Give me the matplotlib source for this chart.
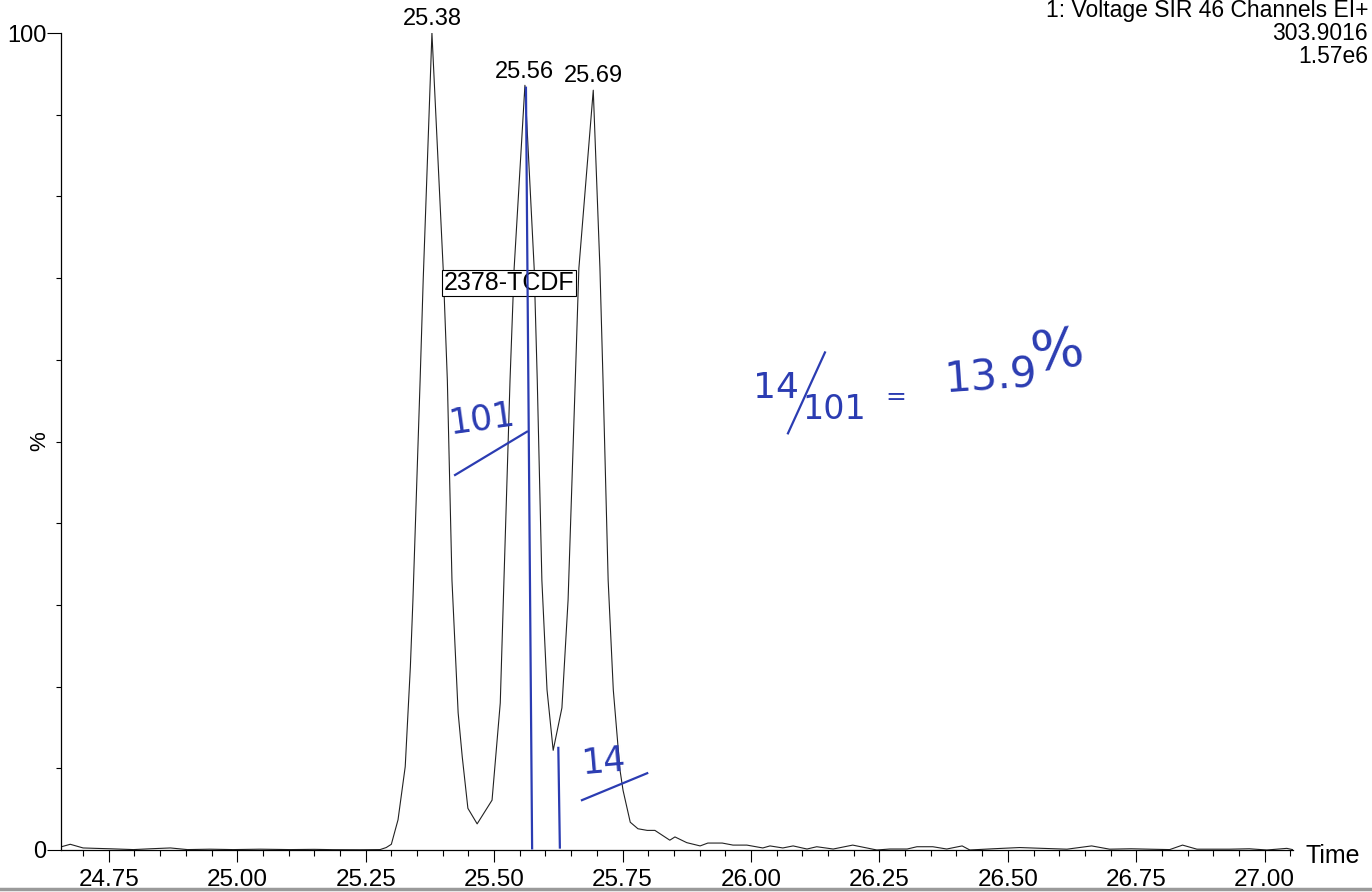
import matplotlib
matplotlib.use("Agg")
from matplotlib import pyplot as plt
from matplotlib.ticker import MultipleLocator, FixedLocator

# trace (time in min, % of base peak)
time_min = [24.658, 24.675, 24.700, 24.725, 24.753, 24.798, 24.831, 24.870, 24.903, 24.947,
            24.992, 25.045, 25.103, 25.150, 25.187, 25.239, 25.278, 25.290, 25.300, 25.313,
            25.327, 25.337, 25.342, 25.356, 25.362, 25.379, 25.401, 25.409, 25.418, 25.430,
            25.438, 25.449, 25.467, 25.496, 25.512, 25.518, 25.531, 25.539, 25.560, 25.578,
            25.584, 25.593, 25.603, 25.615, 25.632, 25.644, 25.658, 25.665, 25.693, 25.706,
            25.712, 25.722, 25.732, 25.745, 25.751, 25.765, 25.780, 25.798, 25.813, 25.842,
            25.852, 25.875, 25.901, 25.916, 25.944, 25.965, 25.992, 26.023, 26.037, 26.062,
            26.082, 26.109, 26.128, 26.160, 26.198, 26.245, 26.270, 26.304, 26.323, 26.354,
            26.381, 26.411, 26.426, 26.471, 26.523, 26.568, 26.615, 26.663, 26.698, 26.740,
            26.776, 26.815, 26.840, 26.868, 26.932, 26.970, 27.004, 27.043, 27.054]
intensity_pct = [0.4, 0.7, 0.25, 0.2, 0.15, 0.05, 0.15, 0.25, 0.05, 0.1,
                 0.05, 0.1, 0.05, 0.08, 0.04, 0.03, 0.05, 0.3, 0.7, 3.7,
                 10.2, 22.4, 30.6, 57.5, 69.8, 100.0, 71.0, 57.5, 33.0, 16.8,
                 11.4, 5.1, 3.2, 6.1, 18.0, 30.6, 57.5, 71.2, 93.6, 71.2,
                 57.5, 33.0, 19.6, 12.2, 17.4, 30.6, 57.5, 71.2, 93.0, 71.2,
                 57.5, 33.0, 19.6, 9.8, 7.3, 3.4, 2.6, 2.4, 2.4, 1.2,
                 1.6, 0.9, 0.5, 0.85, 0.85, 0.6, 0.6, 0.25, 0.5, 0.25,
                 0.5, 0.12, 0.4, 0.12, 0.6, 0.0, 0.12, 0.12, 0.4, 0.4,
                 0.12, 0.5, 0.0, 0.15, 0.3, 0.2, 0.1, 0.5, 0.1, 0.15,
                 0.1, 0.05, 0.6, 0.1, 0.1, 0.15, 0.0, 0.2, 0.05]

peak_rt = [25.379, 25.560, 25.693]
peak_height = [100.0, 93.6, 93.0]
peak_labels = ["25.38", "25.56", "25.69"]

header_lines = ["1: Voltage SIR 46 Channels EI+", "303.9016", "1.57e6"]
compound = "2378-TCDF"

# handwritten notes on the printout
note_peak = "101"
note_valley = "14"
ratio_num, ratio_den, ratio_result = "14", "101", "13.9"

ink = "#2b3cb2"
plt.rcParams['font.family'] = ['Liberation Sans', 'DejaVu Sans']

fig = plt.figure(figsize=(13.72, 8.92), dpi=100)
ax = fig.add_axes([61/1372, 42/892, (1293-61)/1372, (850-33)/892])

ax.plot(time_min, intensity_pct, color="#222222", lw=0.8, zorder=2)
ax.set_xlim(24.657, 27.055)
ax.set_ylim(0, 100)

for s in ["top", "right"]:
    ax.spines[s].set_visible(False)
for s in ["left", "bottom"]:
    ax.spines[s].set_linewidth(0.9)

ax.xaxis.set_major_locator(FixedLocator([24.75 + 0.25*i for i in range(10)]))
ax.xaxis.set_minor_locator(MultipleLocator(0.05))
ax.xaxis.set_major_formatter(matplotlib.ticker.FormatStrFormatter("%.2f"))
ax.tick_params(axis="x", which="major", direction="out", length=8.5, width=0.8,
               labelsize=17.5, pad=5)
ax.tick_params(axis="x", which="minor", direction="out", length=4.5, width=0.8)

ax.yaxis.set_major_locator(FixedLocator([0, 100]))
ax.yaxis.set_minor_locator(MultipleLocator(10))
ax.tick_params(axis="y", which="major", direction="out", length=10, width=0.8,
               labelsize=17, pad=0.5)
ax.tick_params(axis="y", which="minor", direction="out", length=3.5, width=0.8)

fig.text(40/1372, 1 - 441/892, "%", rotation=90, ha="center", va="center", fontsize=16)
fig.text(1305/1372, 1 - 856/892, "Time", ha="left", va="center", fontsize=18)

for rt, h, lab in zip(peak_rt, peak_height, peak_labels):
    ax.annotate(lab, (rt, h), xytext=(0, 2), textcoords="offset points",
                ha="center", va="bottom", fontsize=17, annotation_clip=False)

ax.text(25.529, 69.4, compound, ha="center", va="center", fontsize=18, zorder=3,
        bbox=dict(boxstyle="square,pad=0.05", fc="white", ec="black", lw=0.8))

for i, line in enumerate(header_lines):
    fig.text(1368/1372, 1 - (17 + 23*i)/892, line, ha="right", va="baseline", fontsize=16.5)

# pen marks
ax.plot([25.562, 25.574], [93.3, 0.2], color=ink, lw=1.6, zorder=4)
ax.plot([25.625, 25.628], [12.5, 0.3], color=ink, lw=1.6, zorder=4)
ax.plot([25.424, 25.564], [45.9, 51.2], color=ink, lw=1.6, zorder=4)
ax.plot([25.671, 25.798], [6.1, 9.4], color=ink, lw=1.6, zorder=4)
ax.plot([26.072, 26.144], [51.0, 60.9], color=ink, lw=1.6, zorder=4)

ax.text(25.476, 52.8, note_peak, color=ink, fontsize=25, ha="center", va="center",
        rotation=8, family=["DejaVu Sans"])
ax.text(25.712, 10.8, note_valley, color=ink, fontsize=25, ha="center", va="center",
        rotation=5, family=["DejaVu Sans"])
ax.text(26.049, 56.5, ratio_num, color=ink, fontsize=26, ha="center", va="center",
        family=["DejaVu Sans"])
ax.text(26.163, 53.9, ratio_den, color=ink, fontsize=24, ha="center", va="center",
        family=["DejaVu Sans"])
ax.text(26.282, 55.4, "=", color=ink, fontsize=18, ha="center", va="center",
        family=["DejaVu Sans"])
ax.text(26.467, 57.8, ratio_result, color=ink, fontsize=30, ha="center", va="center",
        rotation=4, family=["DejaVu Sans"])
ax.text(26.597, 60.9, "%", color=ink, fontsize=40, ha="center", va="center",
        rotation=8, family=["DejaVu Sans"])

# scan edge at the bottom of the page
fig.add_artist(plt.Line2D([0, 1], [1 - 889/892, 1 - 889/892], color="#9a9a9a", lw=2.5,
                          transform=fig.transFigure))

fig.savefig("out.png", dpi=100)
